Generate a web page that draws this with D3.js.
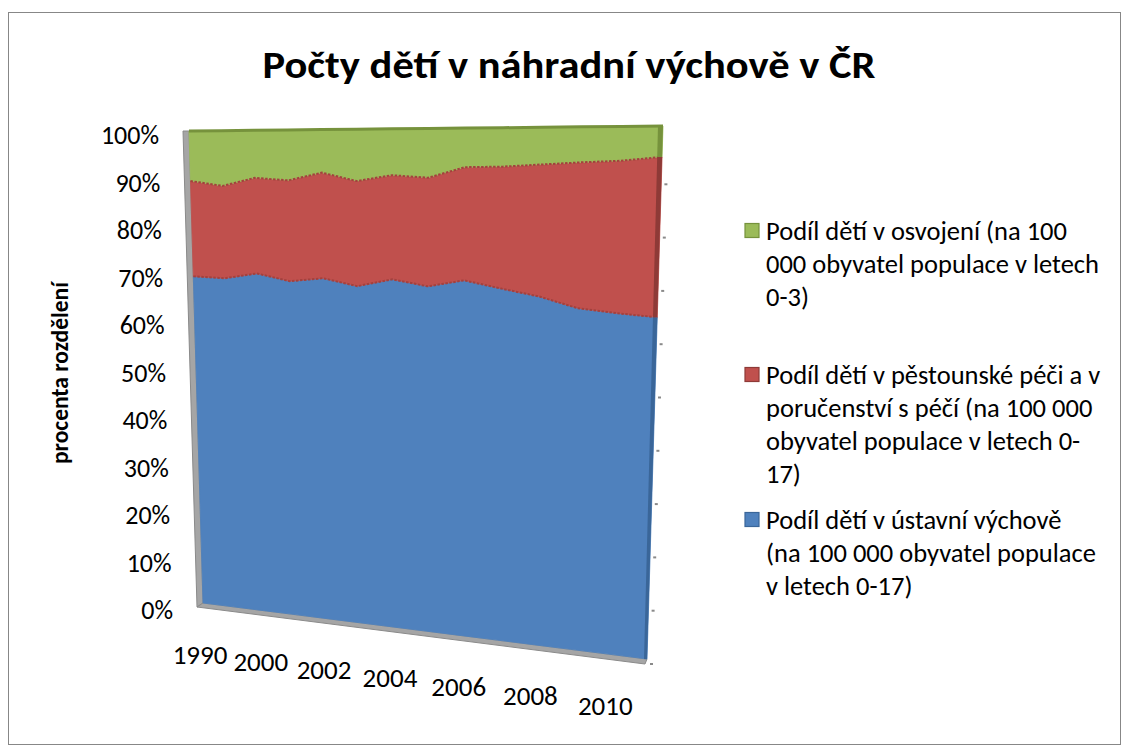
<!DOCTYPE html>
<html>
<head>
<meta charset="utf-8">
<script src="https://cdn.jsdelivr.net/npm/d3@7"></script>
<style>
  body { margin: 0; background: #fff; }
  text { font-family: Calibri, Carlito, "Open Sans", "Noto Sans", sans-serif; fill: #000; }
</style>
</head>
<body>
<script>
// categories (every other one gets a label)
const years = ['1990', '1995', '2000', '2001', '2002', '2003', '2004', '2005',
               '2006', '2007', '2008', '2009', '2010', '2011'];

// shares (%)
const ustavni  = [69.2, 69.0, 70.2, 68.8, 69.6, 68.2, 69.8, 68.6, 70.0, 68.6, 67.3, 65.3, 64.6, 64.1];
const pestoun  = [20.2, 19.4, 19.9, 20.8, 21.6, 21.3, 20.9, 21.6, 22.3, 23.8, 25.5, 27.9, 28.9, 30.1];
const osvojeni = [10.6, 11.6,  9.9, 10.4,  8.8, 10.5,  9.3,  9.8,  7.7,  7.6,  7.2,  6.8,  6.5,  5.8];

const yTicks = [0, 10, 20, 30, 40, 50, 60, 70, 80, 90, 100];

const keys = ['ustavni', 'pestoun', 'osvojeni'];
const colors = { ustavni: '#4F81BD', pestoun: '#C0504D', osvojeni: '#9BBB59' };
const darks  = { ustavni: '#3A6699', pestoun: '#8E3A37', osvojeni: '#76923C' };

const legendLines = {
  osvojeni: ['Podíl dětí v osvojení (na 100', '000 obyvatel populace v letech', '0-3)'],
  pestoun:  ['Podíl dětí v pěstounské péči a v', 'poručenství s péčí (na 100 000', 'obyvatel populace v letech 0-', '17)'],
  ustavni:  ['Podíl dětí v ústavní výchově', '(na 100 000 obyvatel populace', 'v letech 0-17)']
};

const title = 'Počty dětí v náhradní výchově v ČR';
const yTitle = 'procenta rozdělení';

const width = 1128, height = 753;
const svg = d3.select('body').append('svg')
  .attr('width', width).attr('height', height);

// chart frame
svg.append('rect')
  .attr('x', 8.5).attr('y', 12.5)
  .attr('width', 1112).attr('height', 732)
  .attr('fill', '#fff').attr('stroke', '#878787');

// front face of the 3d plot (perspective quad)
const face = { bl: [203, 603], br: [647, 659], tr: [663, 126], tl: [189, 131] };

const xScale = d3.scaleLinear().domain([0, years.length - 1]).range([0, 1]);
const yScale = d3.scaleLinear().domain([0, 1]).range([0, 1]);

// the right end is nearer, so spacing grows to the right
const foreshorten = u => u / (1.146 - 0.146 * u);

function project(u, v) {
  const s = foreshorten(u);
  const x = (1 - s) * (1 - v) * face.bl[0] + s * (1 - v) * face.br[0] + s * v * face.tr[0] + (1 - s) * v * face.tl[0];
  const y = (1 - s) * (1 - v) * face.bl[1] + s * (1 - v) * face.br[1] + s * v * face.tr[1] + (1 - s) * v * face.tl[1];
  return [x, y];
}

const rows = years.map((y, i) => ({ year: y, ustavni: ustavni[i], pestoun: pestoun[i], osvojeni: osvojeni[i] }));
const stacked = d3.stack().keys(keys).offset(d3.stackOffsetExpand)(rows);

const line = d3.line();
const closed = d3.line().curve(d3.curveLinearClosed);

// left wall and floor (grey, seen edge on)
const wallPts = [
  project(0, 1).map((c, k) => c + (k === 0 ? -6 : 0)),
  project(0, 1),
  project(0, 0),
  project(0, 0).map((c, k) => c + (k === 0 ? -6 : 4))
];
svg.append('path').attr('d', closed(wallPts))
  .attr('fill', '#A5A5A5').attr('stroke', '#8A8A8A').attr('stroke-width', 1);

const floorPts = [
  project(0, 0).map((c, k) => c + (k === 0 ? -6 : 4)),
  project(0, 0),
  project(1, 0),
  project(1, 0).map((c, k) => c + (k === 0 ? -2 : 5))
];
svg.append('path').attr('d', closed(floorPts))
  .attr('fill', '#A5A5A5').attr('stroke', '#8A8A8A').attr('stroke-width', 1);

const plot = svg.append('g');

stacked.forEach(layer => {
  const top = layer.map((d, i) => project(xScale(i), yScale(d[1])));
  const bot = layer.map((d, i) => project(xScale(i), yScale(d[0]))).reverse();
  plot.append('path')
    .attr('d', closed(top.concat(bot)))
    .attr('fill', colors[layer.key])
    .attr('stroke', colors[layer.key]).attr('stroke-width', 0.8);
});

// edges between the layers
stacked.forEach(layer => {
  const top = layer.map((d, i) => project(xScale(i), yScale(d[1])));
  if (layer.key === 'osvojeni') {
    plot.append('path').attr('d', line(top))
      .attr('fill', 'none').attr('stroke', darks.osvojeni).attr('stroke-width', 3);
  } else {
    plot.append('path').attr('d', line(top))
      .attr('fill', 'none').attr('stroke', '#A3413E').attr('stroke-width', 2)
      .attr('stroke-dasharray', '2.5,1.5');
  }
});

// dark right end of each ribbon
stacked.forEach(layer => {
  const last = layer[layer.length - 1];
  const n = layer.length - 1;
  const v0 = yScale(last[0]), v1 = yScale(last[1]);
  const p0 = project(xScale(n), v0), p1 = project(xScale(n), v1);
  const pts = [[p1[0] - (3 + 2 * v1), p1[1]], p1, p0, [p0[0] - (3 + 2 * v0), p0[1]]];
  plot.append('path').attr('d', closed(pts)).attr('fill', darks[layer.key]);
});

// y tick labels along the slanted wall
svg.append('g').selectAll('text')
  .data(yTicks).join('text')
  .attr('x', d => project(0, d / 100)[0] - 30)
  .attr('y', d => project(0, d / 100)[1] + 4 + 3 * (1 - d / 100))
  .attr('text-anchor', 'end')
  .attr('dominant-baseline', 'central')
  .attr('font-size', 26)
  .text(d => d + '%');

// small ticks on the far right
svg.append('g').selectAll('line')
  .data(yTicks.slice(0, -1)).join('line')
  .attr('x1', d => project(1, d / 100)[0] + 3)
  .attr('x2', d => project(1, d / 100)[0] + 6)
  .attr('y1', d => project(1, d / 100)[1] + 5)
  .attr('y2', d => project(1, d / 100)[1] + 5)
  .attr('stroke', '#8A8A8A').attr('stroke-width', 2);

// x labels
svg.append('g').selectAll('text')
  .data(years.map((y, i) => ({ y, i })).filter(d => d.i % 2 === 0)).join('text')
  .attr('x', d => project(xScale(d.i), 0)[0] - 3)
  .attr('y', d => project(xScale(d.i), 0)[1] + 51)
  .attr('text-anchor', 'middle')
  .attr('dominant-baseline', 'central')
  .attr('font-size', 27)
  .text(d => d.y);

// titles
svg.append('text')
  .attr('x', 569).attr('y', 64)
  .attr('text-anchor', 'middle').attr('dominant-baseline', 'central')
  .attr('font-size', 39).attr('font-weight', 'bold')
  .attr('textLength', 613).attr('lengthAdjust', 'spacingAndGlyphs')
  .text(title);

svg.append('text')
  .attr('transform', 'translate(60,373) rotate(-90)')
  .attr('text-anchor', 'middle').attr('dominant-baseline', 'central')
  .attr('font-size', 23.5).attr('font-weight', 'bold')
  .text(yTitle);

// legend
const legendItems = [
  { key: 'osvojeni', y: 231 },
  { key: 'pestoun', y: 375 },
  { key: 'ustavni', y: 520 }
];
const lg = svg.append('g');
legendItems.forEach(item => {
  lg.append('rect')
    .attr('x', 745).attr('y', item.y - 7.5)
    .attr('width', 14).attr('height', 14)
    .attr('fill', colors[item.key]).attr('stroke', darks[item.key]).attr('stroke-width', 1.2);
  lg.append('g').selectAll('text')
    .data(legendLines[item.key]).join('text')
    .attr('x', 766)
    .attr('y', (d, i) => item.y + i * 33)
    .attr('dominant-baseline', 'central')
    .attr('font-size', 26.5)
    .text(d => d);
});
</script>
</body>
</html>
